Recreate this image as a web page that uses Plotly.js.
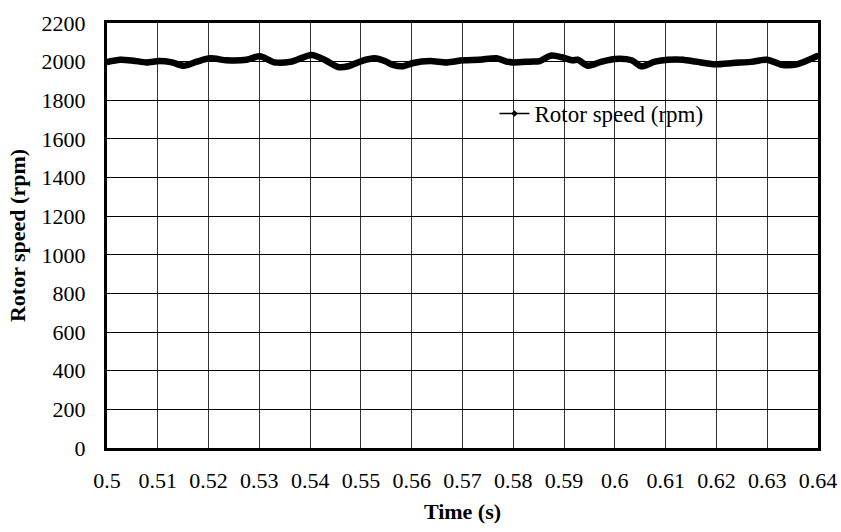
<!DOCTYPE html>
<html>
<head>
<meta charset="utf-8">
<script src="https://cdn.plot.ly/plotly-3.0.1.min.js"></script>
<style>
  html, body { margin: 0; padding: 0; background: #fff; }
  #chart { width: 841px; height: 532px; }
</style>
</head>
<body>
<div id="chart"></div>
<script>
// Sample times (s)
const timeS = [0.5, 0.5026, 0.5052, 0.5078, 0.5103, 0.5128, 0.5151, 0.5177, 0.5203, 0.5236,
  0.5275, 0.5301, 0.533, 0.5363, 0.5403, 0.543, 0.5455, 0.5475, 0.5501, 0.5527,
  0.5547, 0.5563, 0.5583, 0.5603, 0.5636, 0.5669, 0.5701, 0.5734, 0.5767, 0.5787,
  0.58, 0.5833, 0.5852, 0.5874, 0.5898, 0.5917, 0.5927, 0.5947, 0.5974, 0.6,
  0.6033, 0.6052, 0.6079, 0.6105, 0.6134, 0.616, 0.6197, 0.6233, 0.6272, 0.6299,
  0.6331, 0.6358, 0.64];

// Measured rotor speed (rpm)
const rotorSpeed = [1998, 2010, 2005, 1996, 2003, 1996, 1979, 2000, 2017, 2007,
  2010, 2028, 1996, 2000, 2035, 2007, 1972, 1976, 2003, 2017,
  2003, 1983, 1976, 1993, 2003, 1996, 2007, 2010, 2017, 2000,
  1996, 2000, 2003, 2031, 2021, 2007, 2010, 1979, 2000, 2014,
  2007, 1976, 2000, 2010, 2010, 2000, 1986, 1993, 2000, 2010,
  1983, 1986, 2031];

const xTicks = [0.5, 0.51, 0.52, 0.53, 0.54, 0.55, 0.56, 0.57, 0.58, 0.59, 0.6, 0.61, 0.62, 0.63, 0.64];
const xTickText = ['0.5', '0.51', '0.52', '0.53', '0.54', '0.55', '0.56', '0.57', '0.58', '0.59', '0.6', '0.61', '0.62', '0.63', '0.64'];
const yTicks = [0, 200, 400, 600, 800, 1000, 1200, 1400, 1600, 1800, 2000, 2200];

const seriesName = 'Rotor speed (rpm)';
const serif = 'Liberation Serif, Times New Roman, serif';

const traces = [
  // thin marker trace – provides the legend symbol
  {
    x: timeS, y: rotorSpeed, type: 'scatter', mode: 'lines+markers',
    name: seriesName,
    line: { color: '#000', width: 1.5, shape: 'spline', smoothing: 0.8 },
    marker: { symbol: 'diamond', size: 5, color: '#000' },
    showlegend: true
  },
  // heavy trace line
  {
    x: timeS, y: rotorSpeed, type: 'scatter', mode: 'lines',
    line: { color: '#000', width: 6.5, shape: 'spline', smoothing: 0.8 },
    showlegend: false, hoverinfo: 'skip'
  }
];

const layout = {
  width: 841, height: 532,
  margin: { l: 107, r: 23, t: 23, b: 84 },
  paper_bgcolor: '#fff', plot_bgcolor: '#fff',
  font: { family: serif, size: 22, color: '#000' },
  showlegend: true,
  legend: {
    x: 0.545, y: 0.787, xanchor: 'left', yanchor: 'middle',
    bgcolor: 'rgba(0,0,0,0)', borderwidth: 0,
    font: { family: serif, size: 23, color: '#000' }
  },
  shapes: [
    {
      type: 'rect', xref: 'paper', yref: 'paper', layer: 'between',
      x0: 0.477, x1: 0.9255, y0: 0.755, y1: 0.826,
      fillcolor: '#fff', line: { width: 0 }
    }
  ],
  xaxis: {
    range: [0.5, 0.64],
    tickmode: 'array', tickvals: xTicks, ticktext: xTickText,
    showgrid: true, gridcolor: '#333', gridwidth: 1,
    zeroline: false,
    showline: true, linecolor: '#000', linewidth: 3, mirror: true,
    ticks: '', ticklabelstandoff: 11,
    tickfont: { family: serif, size: 22, color: '#000' },
    title: { text: '<b>Time (s)</b>', standoff: 12, font: { family: serif, size: 22, color: '#000' } }
  },
  yaxis: {
    range: [0, 2200],
    tickmode: 'array', tickvals: yTicks,
    showgrid: true, gridcolor: '#000', gridwidth: 1,
    zeroline: false,
    showline: true, linecolor: '#000', linewidth: 3, mirror: true,
    ticks: '', ticklabelstandoff: 14,
    tickfont: { family: serif, size: 22, color: '#000' },
    title: { text: '<b>Rotor speed (rpm)</b>', standoff: 10, font: { family: serif, size: 22, color: '#000' } }
  }
};

Plotly.newPlot('chart', traces, layout, { displayModeBar: false, staticPlot: true });
</script>
</body>
</html>
